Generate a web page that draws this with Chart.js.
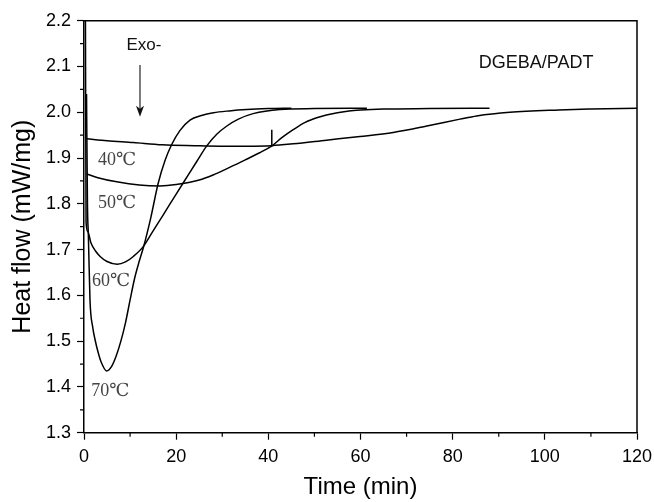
<!DOCTYPE html>
<html>
<head>
<meta charset="utf-8">
<script src="https://cdn.jsdelivr.net/npm/chart.js@4.4.1/dist/chart.umd.min.js"></script>
<style>
  html, body { margin: 0; padding: 0; background: #ffffff; }
  #wrap { width: 654px; height: 502px; }
</style>
</head>
<body>
<div id="wrap"><canvas id="c" width="654" height="502"></canvas></div>
<script>
// ---- data ----
const xTickLabels = [0, 20, 40, 60, 80, 100, 120];
const yTickLabels = ["1.3", "1.4", "1.5", "1.6", "1.7", "1.8", "1.9", "2.0", "2.1", "2.2"];

const time40 = [0.6, 5, 10.7, 17, 24, 29.5, 35, 40.7, 45.4, 52.6, 59.9, 67.1, 74.4, 81.6, 85.2, 92.4, 103, 110, 120];
const flow40 = [1.942, 1.938, 1.934, 1.929, 1.927, 1.926, 1.926, 1.927, 1.931, 1.939, 1.947, 1.956, 1.970, 1.985, 1.992, 2.000, 2.005, 2.007, 2.009];

const time50 = [0.6, 3, 7.1, 12, 16.5, 20, 25, 28, 31.7, 35, 38, 40.7, 43, 45.4, 48, 50.5, 52.6, 55, 57.5, 60, 65, 75, 88];
const flow50 = [1.865, 1.857, 1.848, 1.841, 1.839, 1.842, 1.852, 1.863, 1.880, 1.896, 1.911, 1.926, 1.945, 1.962, 1.978, 1.988, 1.994, 1.999, 2.003, 2.005, 2.007, 2.008, 2.009];

// small vertical mark on the 50℃ curve where it meets the 40℃ curve
const markTime = [40.75, 40.75];
const markFlow = [1.926, 1.962];

const time60 = [0.3, 0.45, 0.8, 1.5, 2.5, 3.5, 5.0, 7.2, 9.0, 10.7, 12.9, 15.0, 17.2, 19.8, 22.3, 24.5, 26.6, 28.8, 31.0, 33.5, 36.7, 42.5, 50, 61.4];
const flow60 = [2.25, 1.76, 1.74, 1.715, 1.697, 1.685, 1.674, 1.668, 1.673, 1.685, 1.707, 1.741, 1.776, 1.818, 1.858, 1.893, 1.926, 1.952, 1.970, 1.985, 1.997, 2.006, 2.008, 2.009];

const time70 = [0.55, 0.75, 0.95, 1.3, 1.9, 2.4, 3.0, 3.7, 4.9, 6.0, 7.0, 8.0, 9.0, 10.0, 11.0, 12.0, 12.9, 14.5, 16.1, 17.6, 19.0, 20.8, 23.0, 25.5, 28.1, 31.5, 35.3, 40, 45];
const flow70 = [2.04, 1.80, 1.73, 1.59, 1.53, 1.503, 1.478, 1.455, 1.435, 1.445, 1.468, 1.50, 1.54, 1.59, 1.638, 1.675, 1.705, 1.77, 1.845, 1.895, 1.929, 1.960, 1.983, 1.993, 1.999, 2.003, 2.006, 2.008, 2.009];

const seriesNames = ["40℃", "50℃", "60℃", "70℃"];

// ---- build datasets ----
function pts(xs, ys) { return xs.map((x, i) => ({ x: x, y: ys[i] })); }
const lineStyle = {
  borderColor: '#000000', borderWidth: 1.5, pointRadius: 0, fill: false,
  cubicInterpolationMode: 'monotone', showLine: true
};
const datasets = [
  Object.assign({ label: seriesNames[0], data: pts(time40, flow40) }, lineStyle),
  Object.assign({ label: seriesNames[1], data: pts(time50, flow50) }, lineStyle),
  Object.assign({ label: 'mark', data: pts(markTime, markFlow) }, lineStyle),
  Object.assign({ label: seriesNames[2], data: pts(time60, flow60) }, lineStyle),
  Object.assign({ label: seriesNames[3], data: pts(time70, flow70) }, lineStyle)
];

// annotation positions (data coordinates)
const serif = '18px "Liberation Serif", "DejaVu Serif", serif';
const sans = '"Liberation Sans", Arial, sans-serif';
const annotations = [
  { text: seriesNames[0], x: 7.2, y: 1.896, font: serif, color: '#444' },
  { text: seriesNames[1], x: 7.2, y: 1.802, font: serif, color: '#444' },
  { text: seriesNames[2], x: 5.9, y: 1.631, font: serif, color: '#444' },
  { text: seriesNames[3], x: 5.7, y: 1.391, font: serif, color: '#444' },
  { text: 'Exo-', x: 13.0, y: 2.147, font: '17px ' + sans, color: '#111' },
  { text: 'DGEBA/PADT', x: 98.1, y: 2.107, font: '18px ' + sans, color: '#111' }
];
const arrow = { x: 12.15, yFrom: 2.103, yTo: 1.990 };

const decorPlugin = {
  id: 'decor',
  afterDraw(chart) {
    const ctx = chart.ctx;
    const xs = chart.scales.x, ys = chart.scales.y;
    const a = chart.chartArea;
    ctx.save();
    // frame (top & right)
    ctx.strokeStyle = '#000';
    ctx.lineWidth = 1.5;
    ctx.beginPath();
    ctx.moveTo(a.left, a.top); ctx.lineTo(a.right, a.top); ctx.lineTo(a.right, a.bottom);
    ctx.stroke();
    // minor ticks
    ctx.lineWidth = 1.2;
    ctx.beginPath();
    for (let v = 10; v < 120; v += 20) {
      const px = xs.getPixelForValue(v);
      ctx.moveTo(px, a.bottom); ctx.lineTo(px, a.bottom + 4);
    }
    for (let k = 0; k < 9; k++) {
      const v = 1.35 + k * 0.1;
      const py = ys.getPixelForValue(v);
      ctx.moveTo(a.left, py); ctx.lineTo(a.left - 4, py);
    }
    ctx.stroke();
    // annotations
    ctx.textAlign = 'center';
    ctx.textBaseline = 'middle';
    annotations.forEach(t => {
      ctx.font = t.font;
      ctx.fillStyle = t.color;
      ctx.fillText(t.text, xs.getPixelForValue(t.x), ys.getPixelForValue(t.y));
    });
    // arrow
    const ax = xs.getPixelForValue(arrow.x);
    const y1 = ys.getPixelForValue(arrow.yFrom), y2 = ys.getPixelForValue(arrow.yTo);
    ctx.strokeStyle = '#111';
    ctx.lineWidth = 1.1;
    ctx.beginPath(); ctx.moveTo(ax, y1); ctx.lineTo(ax, y2 - 8); ctx.stroke();
    ctx.fillStyle = '#111';
    ctx.beginPath();
    ctx.moveTo(ax, y2); ctx.lineTo(ax - 4, y2 - 11); ctx.lineTo(ax, y2 - 8); ctx.lineTo(ax + 4, y2 - 11);
    ctx.closePath(); ctx.fill();
    ctx.restore();
  }
};

const tickFont = { family: sans, size: 18 };

new Chart(document.getElementById('c'), {
  type: 'scatter',
  data: { datasets: datasets },
  options: {
    responsive: false,
    animation: false,
    events: [],
    layout: { padding: { top: 20.7, right: 17, left: 0, bottom: 0 } },
    plugins: { legend: { display: false }, tooltip: { enabled: false } },
    scales: {
      x: {
        type: 'linear', position: 'bottom', min: 0, max: 120,
        afterBuildTicks: s => { s.ticks = xTickLabels.map(v => ({ value: v })); },
        ticks: { color: '#000', font: tickFont, padding: 7, maxRotation: 0, callback: v => String(v) },
        grid: { drawOnChartArea: false, drawTicks: true, tickLength: 7, tickColor: '#000', tickWidth: 1.2 },
        border: { display: true, color: '#000', width: 1.5 },
        title: { display: true, text: 'Time (min)', color: '#000',
                 font: { family: sans, size: 24 }, padding: { top: 0, bottom: 0 } },
        afterFit: s => { s.height = 69.3; s.paddingLeft = 0; s.paddingRight = 0; }
      },
      y: {
        type: 'linear', position: 'left', min: 1.3, max: 2.2,
        afterBuildTicks: s => { s.ticks = yTickLabels.map(v => ({ value: parseFloat(v) })); },
        ticks: { color: '#000', font: tickFont, padding: 6, callback: (v, i) => yTickLabels[i] },
        grid: { drawOnChartArea: false, drawTicks: true, tickLength: 7, tickColor: '#000', tickWidth: 1.2 },
        border: { display: true, color: '#000', width: 1.5 },
        title: { display: true, text: 'Heat flow (mW/mg)', color: '#000',
                 font: { family: sans, size: 25 }, padding: { top: 8, bottom: 0 } },
        afterFit: s => { s.width = 84; s.paddingTop = 0; s.paddingBottom = 0; }
      }
    }
  },
  plugins: [decorPlugin]
});
</script>
</body>
</html>
